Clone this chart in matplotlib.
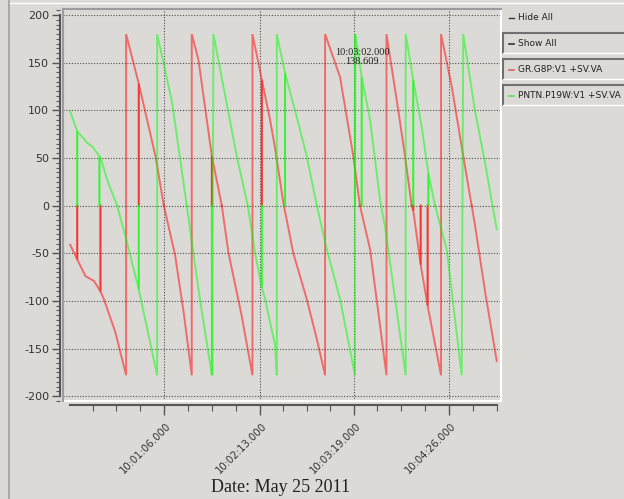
import numpy as np
import matplotlib
matplotlib.use("Agg")
import matplotlib.pyplot as plt
from matplotlib.ticker import FixedLocator, MultipleLocator
from matplotlib.patches import Rectangle
import matplotlib.transforms as mtransforms

plt.rcParams["axes.unicode_minus"] = False

# seconds after 10:00:00, angle in degrees (0 samples are dropouts)
red_t = [0, 5, 5, 5, 10.8, 16.7, 21.3, 21.3, 21.3, 23.7, 31.8, 39.3, 39.3,
         48.2, 48.2, 48.2, 59.9, 65.8, 73.7, 80, 85.4, 85.4,
         90.1, 99.5, 99.5, 99.5, 106.5, 111.1, 120.5, 128, 128,
         134.6, 134.6, 134.6, 140.4, 143.9, 149.7, 156.7, 166.1, 173.2, 179, 179,
         189.5, 198.8, 203.5, 210.6, 217.6, 222.1, 222.1,
         230.4, 235.1, 239.8, 240.9, 240.9, 240.9, 246.1, 246.1, 246.1,
         251, 251, 251, 260.4, 260.4,
         267.9, 276, 281.9, 284.2, 291.3, 299.5]
red_v = [-41, -56.5, 0, -56.5, -74, -79, -90, 0, -90, -98, -133, -178, 180,
         128, 0, 128, 52, 0, -52, -115, -178, 180,
         153, 52, 0, 52, 0, -49, -116, -178, 180,
         132, 0, 132, 90, 60, 3, -50, -98, -140, -178, 180,
         135, 52, 0, -46, -126, -178, 180,
         100, 52, 0, -5, 0, -5, -62, 0, -62,
         -105, 0, -105, -178, 180,
         125, 52, 0, -20, -90, -163]

green_t = [0, 5, 5, 5, 12, 15.5, 20.6, 20.6, 20.6, 22.5, 26, 33, 38.8,
           48.2, 48.2, 48.2, 61.1, 61.1,
           66.7, 71.6, 81.9, 90.1, 99.5, 99.5, 99.8, 100.6,
           117, 124.7, 129.9, 134.6, 134.6, 134.6, 136.9, 143.9, 145.1, 145.1,
           150.9, 150.9, 150.9, 159.1, 166.1, 173.2, 180.2, 189.5, 200, 200, 200, 200.3,
           204.7, 204.7, 204.7, 210.6, 217.6, 221.4, 235.6, 235.6,
           240.9, 240.9, 240.9, 246.8, 251.5, 251.5, 251.5, 256.2, 264.4, 274.9, 276,
           284.2, 291.3, 299.5]
green_v = [99, 78, 0, 78, 66, 62, 52, 0, 52, 45, 27, 0, -32,
           -88, 0, -88, -178, 180,
           142, 108, 0, -88, -178, 0, -178, 180,
           52, 0, -50, -86, 0, -86, -98, -147, -178, 180,
           139, 0, 139, 93, 52, 0, -46, -98, -178, 180, 0, 180,
           135, 0, 135, 90, 6, -25, -178, 180,
           132, 0, 132, 83, 34, 0, 34, 0, -46, -178, 180,
           100, 45, -25]

series_names = ["GR.G8P:V1 +SV.VA", "PNTN.P19W:V1 +SV.VA"]
x_ticks = [66, 133, 199, 266]
x_labels = ["10:01:06.000", "10:02:13.000", "10:03:19.000", "10:04:26.000"]

BG = "#dcdad7"
W, H = 624, 499


def chunks(t, v):
    # split the trace at each zero sample so dropout spikes overlap
    out, start = [], 0
    for i in range(1, len(v)):
        if v[i] == 0:
            out.append((t[start:i + 1], v[start:i + 1]))
            start = i
    out.append((t[start:], v[start:]))
    return out


def px(x, y):
    return x / W, 1 - y / H


fig = plt.figure(figsize=(W / 100, H / 100), dpi=100, facecolor=BG)
x0, y1 = px(63, 401)
x1, y0 = px(501, 9.3)
ax = fig.add_axes([x0, y1, x1 - x0, y0 - y1], facecolor=BG)

for t, v in chunks(red_t, red_v):
    ax.plot(t, v, color="#ff0000", alpha=0.5, lw=1.4, solid_joinstyle="miter")
for t, v in chunks(green_t, green_v):
    ax.plot(t, v, color="#00ff00", alpha=0.5, lw=1.4, solid_joinstyle="miter")

ax.set_xlim(-5, 302.5)
ax.set_ylim(-205, 206)

ax.yaxis.set_major_locator(FixedLocator(range(-200, 201, 50)))
ax.yaxis.set_minor_locator(MultipleLocator(5))
ax.xaxis.set_major_locator(FixedLocator(x_ticks))
minor = []
edges = [x_ticks[0] - 67] + x_ticks + [x_ticks[-1] + 67]
for a, b in zip(edges[:-1], edges[1:]):
    minor += list(np.linspace(a, b, 5)[1:-1])
ax.xaxis.set_minor_locator(FixedLocator([m for m in minor if 0 <= m <= 300]))

ax.tick_params(axis="y", which="major", length=6, width=1, color="#555555",
               labelsize=8, labelcolor="#333333", pad=2)
ax.tick_params(axis="y", which="minor", length=3, width=0.8, color="#555555")
ax.tick_params(axis="x", which="major", length=7, width=1, color="#555555", pad=2,
               labelsize=7.3, labelcolor="#333333", labelrotation=45)
ax.tick_params(axis="x", which="minor", length=4, width=0.8, color="#555555")
ax.set_xticks(x_ticks)
ax.set_xticklabels(x_labels)

ax.grid(True, which="major", color="#505050", linestyle=(0, (1, 1.5)), linewidth=0.8)

ax.spines["left"].set_position(("outward", 2))
ax.spines["left"].set_bounds(-200, 200)
ax.spines["left"].set_color("#555555")
ax.spines["left"].set_linewidth(1.5)
ax.spines["bottom"].set_position(("outward", 3))
ax.spines["bottom"].set_bounds(0, 300)
ax.spines["bottom"].set_color("#555555")
ax.spines["bottom"].set_linewidth(1.5)
ax.spines["top"].set_color("#9c9c9c")
ax.spines["top"].set_linewidth(1.5)
ax.spines["right"].set_color("white")
ax.spines["right"].set_linewidth(1.5)
ax.plot([0, 1], [0, 0], transform=ax.transAxes, color="white", lw=1.5, clip_on=False)
ax.plot([0, 0], [0, 1], transform=ax.transAxes, color="#9c9c9c", lw=1.5, clip_on=False)

ax.text(205, 156, "10:03:02.000\n138.609", ha="center", va="center", fontsize=7.5,
        family="Liberation Serif", color="#222222", linespacing=1.0)

fig.text(*px(281, 487), "Date: May 25 2011", ha="center", va="center",
         fontsize=13, family="Liberation Serif", color="#222222")

# left panel border and top highlight
fig.add_artist(plt.Line2D([9 / W, 9 / W], [0, 1], color="#a0a0a0", lw=1.2))
fig.add_artist(plt.Line2D([10 / W, 1], [1 - 3 / H, 1 - 3 / H], color="white", lw=1))

# legend buttons on the right
fig.add_artist(plt.Line2D([509 / W, 514 / W], [1 - 18 / H] * 2, color="#333333", lw=1))
fig.text(*px(518, 18), "Hide All", ha="left", va="center", fontsize=6.5, color="#222222")
buttons = [("Show All", "#333333"), (series_names[0], "#e06060"), (series_names[1], "#60e060")]
for i, (txt, col) in enumerate(buttons):
    top = 33 + i * 26
    bx, by = px(503, top + 20)
    fig.add_artist(Rectangle((bx, by), (W - 503) / W, 20 / H, transform=fig.transFigure,
                             facecolor=BG, edgecolor="none"))
    fig.add_artist(plt.Line2D([503 / W, 503 / W], [1 - (top + 20) / H, 1 - top / H],
                              color="#707070", lw=1.5))
    fig.add_artist(plt.Line2D([503 / W, 1], [1 - top / H] * 2, color="#707070", lw=1.5))
    fig.add_artist(plt.Line2D([503 / W, 1], [1 - (top + 20) / H] * 2, color="white", lw=1))
    fig.add_artist(plt.Line2D([509 / W, 514 / W], [1 - (top + 11) / H] * 2, color=col, lw=1.2))
    fig.text(*px(518, top + 11), txt, ha="left", va="center", fontsize=6.5, color="#222222")

# rotated time labels: right end sits a little right of the tick
off = mtransforms.ScaledTranslation(9 / 100, -3 / 100, fig.dpi_scale_trans)
for lab in ax.get_xticklabels():
    lab.set_ha("right")
    lab.set_va("top")
    lab.set_transform(lab.get_transform() + off)

fig.savefig("out.png", dpi=100, facecolor=BG)
